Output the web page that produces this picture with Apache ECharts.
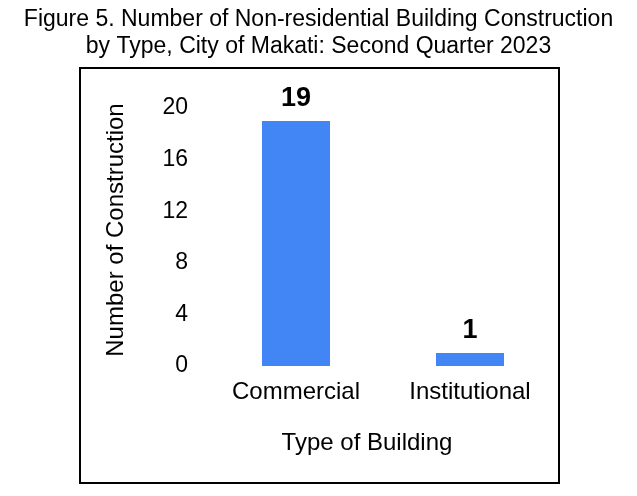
<!DOCTYPE html>
<html><head><meta charset="utf-8">
<script src="https://cdn.jsdelivr.net/npm/echarts@6/dist/echarts.min.js"></script>
<style>html,body{margin:0;padding:0;background:#fff}#c{width:637px;height:496px}</style>
</head><body><div id="c"></div>
<script>
const categories = ['Commercial', 'Institutional'];
const values = [19, 1];
const yTicks = [0, 4, 8, 12, 16, 20];
const xTitle = 'Type of Building';
const yTitle = 'Number of Construction';

const chart = echarts.init(document.getElementById('c'));
const F = '"Liberation Sans", Arial, sans-serif';
chart.setOption({
  animation: false,
  title: {
    text: 'Figure 5. Number of Non-residential Building Construction\nby Type, City of Makati: Second Quarter 2023',
    left: 'center', top: 1,
    textStyle: {fontFamily: F, fontSize: 23, fontWeight: 'normal', color: '#000', lineHeight: 27}
  },
  graphic: [{
    type: 'rect', shape: {x: 80, y: 68, width: 479, height: 415},
    style: {fill: 'none', stroke: '#000', lineWidth: 2}, z: -1
  }, {
    type: 'text', x: 367, y: 443,
    style: {text: xTitle, font: '24px ' + F, fill: '#000', textAlign: 'center', textVerticalAlign: 'middle'}
  }, {
    type: 'text', x: 116, y: 230, rotation: Math.PI / 2,
    style: {text: yTitle, font: '24px ' + F, fill: '#000', textAlign: 'center', textVerticalAlign: 'middle'}
  }],
  grid: {left: 209, right: 80, top: 108, bottom: 130},
  xAxis: {
    type: 'category', data: categories,
    axisLine: {show: false}, axisTick: {show: false},
    axisLabel: {fontFamily: F, fontSize: 24, color: '#000', margin: 14}
  },
  yAxis: {
    type: 'value', min: 0, max: yTicks[yTicks.length - 1], interval: 4,
    splitLine: {show: false}, axisLine: {show: false}, axisTick: {show: false},
    axisLabel: {fontFamily: F, fontSize: 23, color: '#000', margin: 21}
  },
  series: [{
    type: 'bar', data: values, barWidth: 68,
    itemStyle: {color: '#4285F4'},
    label: {show: true, position: 'top', distance: 9, fontFamily: F, fontSize: 27, fontWeight: 'bold', color: '#000'}
  }]
});
</script></body></html>
